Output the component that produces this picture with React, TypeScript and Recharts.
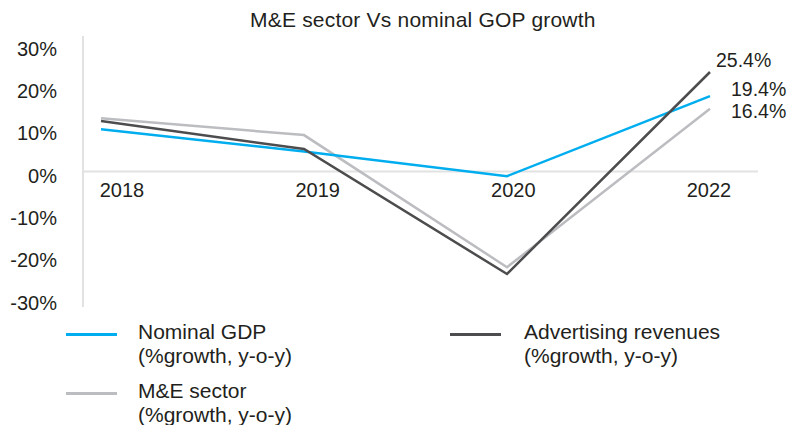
import React from "react";
import { LineChart, Line, XAxis, YAxis, ReferenceLine, ReferenceDot, LabelList } from "recharts";

const years = ["2018", "2019", "2020", "2022"];
const nominalGdp = [10.0, 4.7, -1.1, 17.8];
const adRevenues = [11.9, 5.3, -24.2, 23.5];
const meSector = [12.6, 8.6, -22.6, 14.8];
const yTicks = [-30, -20, -10, 0, 10, 20, 30];
const endLabels = { gdp: "19.4%", ad: "25.4%", me: "16.4%" };

const data = years.map((year, i) => ({
  year,
  gdp: nominalGdp[i],
  ad: adRevenues[i],
  me: meSector[i],
}));

const FONT = '"Liberation Sans", Arial, Helvetica, sans-serif';
const TEXT = "#231f20";
const BLUE = "#00aeef";
const DARK = "#4d4d4f";
const GREY = "#bcbdc0";

function endLabel(text: string, dx: number, dy: number) {
  return (props: any) => {
    if (props.index !== years.length - 1) return null;
    return (
      <text x={props.x + dx} y={props.y + dy} dy="0.35em" fill={TEXT} fontSize={19.5} fontFamily={FONT}>
        {text}
      </text>
    );
  };
}

function LegendItem({ color, left, top, swatchLeft, lines }: { color: string; left: number; top: number; swatchLeft: number; lines: string[] }) {
  return (
    <>
      <div style={{ position: "absolute", left: swatchLeft, top: top + 13, width: 51, height: 3, background: color }} />
      <div style={{ position: "absolute", left, top, fontSize: 21, lineHeight: "24px", color: TEXT, whiteSpace: "nowrap" }}>
        {lines.map((l) => (
          <div key={l}>{l}</div>
        ))}
      </div>
    </>
  );
}

export default function App() {
  return (
    <div style={{ position: "absolute", left: 0, top: 0, width: 791, height: 425, background: "#fff", fontFamily: FONT, overflow: "hidden" }}>
      <div style={{ position: "absolute", left: 250, top: 8, fontSize: 21, lineHeight: "24px", color: TEXT, whiteSpace: "nowrap", letterSpacing: 0.2 }}>
        M&amp;E sector Vs nominal GOP growth
      </div>
      <LineChart width={791} height={425} data={data} margin={{ top: 36, right: 33, bottom: 118, left: 0 }}>
        <XAxis dataKey="year" type="category" hide padding={{ left: 18, right: 48 }} />
        <XAxis xAxisId="lbl" dataKey="year" type="category" hide padding={{ left: 39, right: 49 }} />
        <YAxis
          type="number"
          domain={[-32, 32]}
          ticks={yTicks}
          width={83}
          allowDataOverflow
          tickLine={false}
          tickSize={0}
          tickMargin={26}
          axisLine={{ stroke: "#e2e2e2", strokeWidth: 2 }}
          tickFormatter={(v: number) => `${v}%`}
          tick={{ fill: TEXT, fontSize: 20, fontFamily: FONT, dy: 4 }}
        />
        <ReferenceLine y={0} stroke="#e2e2e2" strokeWidth={2} />
        {years.map((y) => (
          <ReferenceDot
            key={y}
            xAxisId="lbl"
            x={y}
            y={0}
            r={0}
            fill="none"
            stroke="none"
            ifOverflow="visible"
            label={{ value: y, position: "bottom", offset: 11, fill: TEXT, fontSize: 20, fontFamily: FONT }}
          />
        ))}
        <Line type="linear" dataKey="me" stroke={GREY} strokeWidth={2.5} dot={false} isAnimationActive={false}>
          <LabelList dataKey="me" content={endLabel(endLabels.me, 21, 2)} />
        </Line>
        <Line type="linear" dataKey="gdp" stroke={BLUE} strokeWidth={2.5} dot={false} isAnimationActive={false}>
          <LabelList dataKey="gdp" content={endLabel(endLabels.gdp, 21, -7)} />
        </Line>
        <Line type="linear" dataKey="ad" stroke={DARK} strokeWidth={2.5} dot={false} isAnimationActive={false}>
          <LabelList dataKey="ad" content={endLabel(endLabels.ad, 6, -12)} />
        </Line>
      </LineChart>
      <LegendItem color={BLUE} swatchLeft={66} left={138} top={320} lines={["Nominal GDP", "(%growth, y-o-y)"]} />
      <LegendItem color={GREY} swatchLeft={66} left={138} top={379} lines={["M&E sector", "(%growth, y-o-y)"]} />
      <LegendItem color={DARK} swatchLeft={450} left={524} top={320} lines={["Advertising revenues", "(%growth, y-o-y)"]} />
    </div>
  );
}
